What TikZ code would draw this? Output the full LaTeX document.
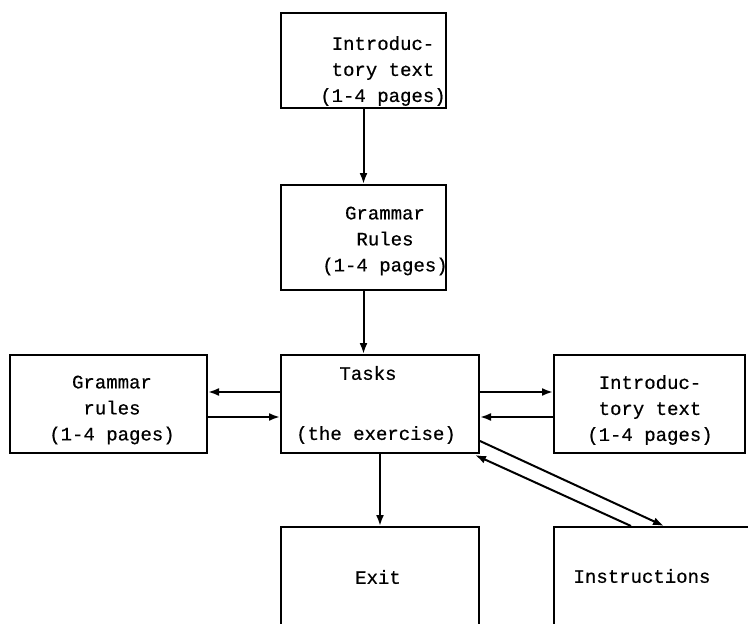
\documentclass[tikz,border=0pt]{standalone}
\usepackage{fontspec}
\setmonofont[FakeBold=0.6]{Liberation Mono}
\usetikzlibrary{arrows.meta,calc}
\begin{document}
\begin{tikzpicture}[x=1pt,y=-1pt,
  box/.style={draw,line width=2pt,rectangle,inner sep=0pt},
  txt/.style={font=\ttfamily\fontsize{19}{26}\selectfont,align=center,inner sep=0pt},
  arr/.style={line width=2pt,-{Latex[length=11pt,width=8pt]}}]
\useasboundingbox (0,0) rectangle (748,624);
\clip (0,0) rectangle (748,624);
\fill[white] (0,0) rectangle (748,624);
\node[box,minimum width=165pt,minimum height=95pt] (top) at (363.5,60.5) {};
\node[box,minimum width=165pt,minimum height=105pt] (gram) at (363.5,237.5) {};
\node[box,minimum width=198pt,minimum height=98pt] (tasks) at (380,404) {};
\node[box,minimum width=197pt,minimum height=98pt] (left) at (108.5,404) {};
\node[box,minimum width=191pt,minimum height=98pt] (right) at (649.5,404) {};
\node[box,minimum width=198pt,minimum height=113pt] (exit) at (380,583.5) {};
\node[box,minimum width=266pt,minimum height=113pt] (instr) at (687,583.5) {};

\node[txt] (ttop) at (383,71) {Introduc-\\tory text\\(1-4 pages)};
\node[txt] (tgram) at (385,241) {Grammar\\Rules\\(1-4 pages)};
\node[txt] (ttasks) at (368,373) {Tasks};
\node[txt] (texer) at (376,435) {(the exercise)};
\node[txt] (tleft) at (112,410) {Grammar\\rules\\(1-4 pages)};
\node[txt] (tright) at (650,410) {Introduc-\\tory text\\(1-4 pages)};
\node[txt] (texit) at (378,577) {Exit};
\node[txt] (tinstr) at (642,576) {Instructions};

\draw[arr] (top.south) -- (gram.north);
\draw[arr] (gram.south) -- (gram.south |- tasks.north);
\draw[arr] ([yshift=12pt]tasks.west) -- ([yshift=12pt]left.east);
\draw[arr] ([yshift=-13pt]left.east) -- ([yshift=-13pt]tasks.west);
\draw[arr] ([yshift=12pt]tasks.east) -- ([yshift=12pt]right.west);
\draw[arr] ([yshift=-13pt]right.west) -- ([yshift=-13pt]tasks.east);
\draw[arr] (tasks.south) -- (exit.north);
\draw[arr] ([yshift=13pt]tasks.south east) -- ([xshift=111pt]instr.north west);
\draw[arr] ([xshift=78pt]instr.north west) -- ([xshift=-5pt,yshift=-1pt]tasks.south east);
\end{tikzpicture}
\end{document}
